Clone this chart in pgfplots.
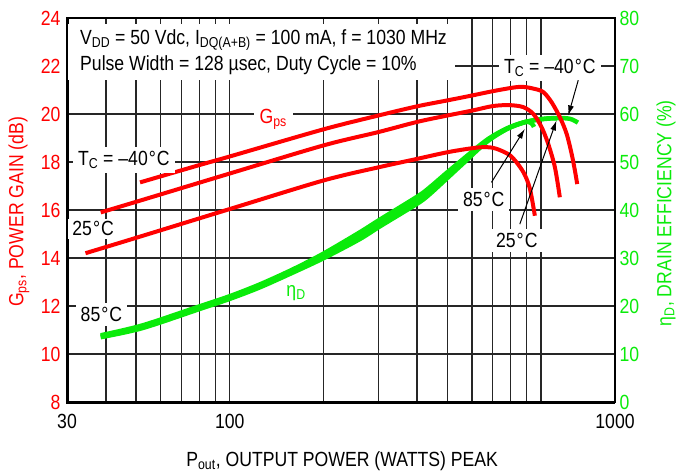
\documentclass[border=0pt]{standalone}
\usepackage{fontspec}
\setmainfont{Liberation Sans}[FakeStretch=0.86]
\usepackage{pgfplots}
\pgfplotsset{compat=1.18}
\usetikzlibrary{arrows.meta}
\definecolor{gred}{RGB}{255,0,0}
\definecolor{ggreen}{RGB}{10,235,10}
\newcommand{\dg}{\kern1pt°\kern1pt}
\begin{document}
\begin{tikzpicture}[font=\fontsize{20.5}{24}\selectfont]
\path[use as bounding box] (-67pt,-70pt) rectangle (612pt,402pt);
% axis A: grid, left axis, labels
\begin{axis}[xmode=log, scale only axis, width=548pt, height=384pt, at={(0pt,0pt)}, anchor=south west,
  xmin=30, xmax=1730, ymin=8, ymax=24,
  major tick length=0pt, minor tick length=0pt,
  ytick={8,10,12,14,16,18,20,22,24}, yticklabels={8,10,12,14,16,18,20,22,24},
  xtick={30,100,1730}, xticklabels={30,100,1000},
  minor xtick={40,50,60,70,80,90,200,300,400,500,600,700,800,900,1000},
  xmajorgrids, xminorgrids, ymajorgrids,
  major grid style={black!85, line width=1.4pt}, minor grid style={black!85, line width=1.4pt},
  axis line style={line width=1.4pt},
  yticklabel style={text=gred, xshift=-3pt},
  xticklabel style={yshift=-9pt},
  xlabel={P\textsubscript{out}, OUTPUT POWER (WATTS) PEAK},
  every axis x label/.style={at={(axis description cs:0.502,-0.168)}, anchor=base},
  ylabel={G\textsubscript{ps}, POWER GAIN (dB)},
  every axis y label/.style={at={(axis description cs:-0.0876,0.495)}, rotate=90, anchor=center, text=gred},
  clip=false]
\draw[line width=3pt] (rel axis cs:0,1) -- (rel axis cs:0,0) -- (rel axis cs:1,0);
\end{axis}
% axis B: efficiency (right)
\begin{axis}[xmode=log, scale only axis, width=548pt, height=384pt, at={(0pt,0pt)}, anchor=south west,
  xmin=30, xmax=1730, ymin=0, ymax=80,
  major tick length=0pt, minor tick length=0pt,
  ytick={0,10,20,30,40,50,60,70,80}, yticklabels={0,10,20,30,40,50,60,70,80},
  axis y line*=right, axis x line=none, axis line style={line width=1.4pt},
  yticklabel style={text=ggreen, xshift=1pt},
  ylabel={η\textsubscript{D}, DRAIN EFFICIENCY (\%)},
  every axis y label/.style={at={(axis description cs:1.093,0.492)}, rotate=90, anchor=center, text=ggreen}]
\addplot[ggreen, line width=4.5pt, smooth] coordinates {
(38.5,13.9)(52.4,15.95)(79.8,19.9)(99.6,22.0)(124.5,24.45)(159.3,27.6)(200,30.9)(261,35.3)(303,37.95)(402,42.85)(439,44.7)(497,47.7)(560,50.5)(670,54.6)(777,57.0)(874,58.2)(970,58.8)(1125,59.15)(1239,59.0)(1315,58.2)};
\addplot[ggreen, line width=4.5pt, smooth] coordinates {
(38.5,13.5)(52.4,15.4)(79.8,19.35)(99.6,21.45)(124.5,23.85)(159.3,26.95)(200,29.95)(261,33.9)(303,36.55)(402,41.4)(439,43.3)(497,46.5)(560,49.6)(670,54.2)(777,56.85)(874,58.15)(970,58.8)(1060,59.1)(1125,59.1)};
\addplot[ggreen, line width=4.5pt, smooth] coordinates {
(38.5,13.68)(52.4,15.65)(79.8,19.62)(99.6,21.72)(124.5,24.14)(159.3,27.28)(200,30.42)(261,34.6)(303,37.26)(402,42.13)(439,44.02)(497,47.09)(560,50.02)(670,54.41)(777,56.92)(874,58.18)(905,58.4)(935,58.0)(950,57.3)};
\end{axis}
% axis C: gain curves and annotations
\begin{axis}[xmode=log, scale only axis, width=548pt, height=384pt, at={(0pt,0pt)}, anchor=south west,
  xmin=30, xmax=1730, ymin=8, ymax=24, hide axis, clip=false]
\addplot[gred, line width=4pt, smooth] coordinates {
(51.5,17.15)(79.8,17.87)(100,18.23)(200,19.36)(301,19.94)(400,20.32)(502,20.57)(605,20.78)(700,20.95)(814,21.10)(876,21.13)(944,21.06)(1016,20.92)(1081,20.50)(1150,19.87)(1209,19.18)(1255,18.34)(1286,17.64)(1308,17.08)};
\addplot[gred, line width=4pt, smooth] coordinates {
(38.5,15.90)(50,16.34)(100,17.52)(200,18.69)(301,19.25)(400,19.67)(502,19.94)(605,20.15)(700,20.33)(790,20.37)(876,20.29)(944,20.01)(1004,19.46)(1055,18.76)(1109,17.78)(1150,16.53)};
\addplot[gred, line width=4pt, smooth] coordinates {
(34.4,14.20)(50,14.84)(100,16.04)(200,17.23)(301,17.78)(400,18.13)(502,18.41)(605,18.58)(668,18.62)(720,18.55)(800,18.25)(876,17.6)(921,16.9)(956,15.76)};
% top text box
\fill[white] (rel axis cs:0.0018,0.8385) rectangle (rel axis cs:0.708,0.984);
\node[anchor=base west, inner sep=0pt] at (rel axis cs:0.0237,0.932) {V\textsubscript{DD} = 50 Vdc, I\textsubscript{DQ(A+B)} = 100 mA, f = 1030 MHz};
\node[anchor=base west, inner sep=0pt] at (rel axis cs:0.0237,0.862) {Pulse Width = 128 µsec, Duty Cycle = 10\%};
% labels
\node[fill=white, anchor=base, inner xsep=5pt, inner ysep=4pt] at (axis cs:45.7,17.85) {T\textsubscript{C} = –40\dg C};
\node[fill=white, anchor=base, inner xsep=4pt, inner ysep=3pt] at (axis cs:36.4,14.92) {25\dg C};
\node[fill=white, anchor=base, inner xsep=5pt, inner ysep=4pt] at (axis cs:38.7,11.36) {85\dg C};
\node[fill=white, anchor=base, text=gred, inner xsep=6pt, inner ysep=3pt] at (axis cs:138,19.59) {G\textsubscript{ps}};
\node[anchor=base, text=ggreen, inner sep=1pt] at (axis cs:163.4,12.41) {η\textsubscript{D}};
\node[fill=white, anchor=base, inner xsep=5pt, inner ysep=4pt] at (axis cs:655,16.15) {85\dg C};
\node[fill=white, anchor=base, inner xsep=4pt, inner ysep=4pt] at (axis cs:836.5,14.44) {25\dg C};
\node[fill=white, anchor=base, inner xsep=5pt, inner ysep=4pt] at (axis cs:1068,21.69) {T\textsubscript{C} = –40\dg C};
% arrows
\draw[-{Latex[length=10pt,width=6pt]}, line width=1pt] (axis cs:1318,21.41) -- (axis cs:1224,19.94);
\draw[-{Latex[length=10pt,width=6pt]}, line width=1pt] (axis cs:693.4,17.15) -- (axis cs:887.7,19.38);
\draw[-{Latex[length=10pt,width=6pt]}, line width=1pt] (axis cs:855.3,15.41) -- (axis cs:1122,19.73);
\end{axis}
\end{tikzpicture}
\end{document}
